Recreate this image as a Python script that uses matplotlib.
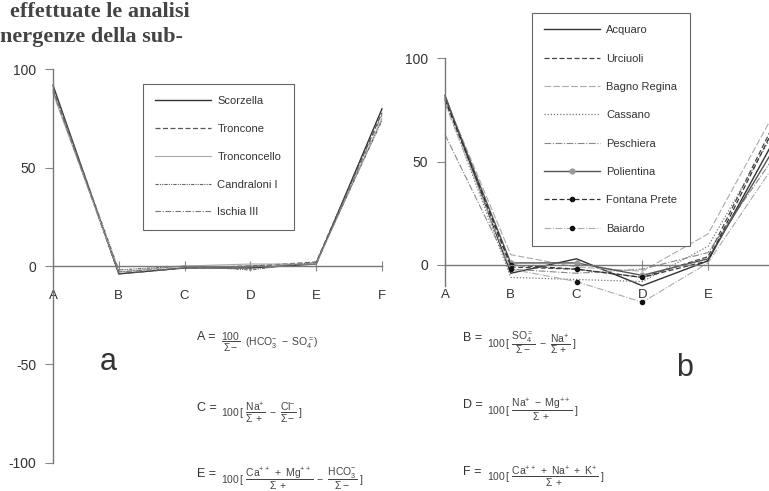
import numpy as np
import matplotlib
matplotlib.use('Agg')
import matplotlib.pyplot as plt

plt.rcParams['font.family'] = ['Liberation Sans', 'DejaVu Sans']
plt.rcParams['mathtext.fontset'] = 'custom'
plt.rcParams['mathtext.rm'] = 'Liberation Sans'
plt.rcParams['mathtext.it'] = 'Liberation Sans'
plt.rcParams['axes.unicode_minus'] = False

W, H = 769, 491

# --- data ---
categories = ['A', 'B', 'C', 'D', 'E', 'F']

names_a = ['Scorzella', 'Troncone', 'Tronconcello', 'Candraloni I', 'Ischia III']
vals_a = [
    [92, -4, -1, -1, 1, 80],
    [90, -4, -1, 0, 2, 78],
    [88, -3, 0, 1, 1, 75],
    [91, -2, 0, -2, 2, 74],
    [89, -3, -1, 0, 1, 77],
]

names_b = ['Acquaro', 'Urciuoli', 'Bagno Regina', 'Cassano', 'Peschiera',
           'Polientina', 'Fontana Prete', 'Baiardo']
vals_b = [
    [82, -4, 3, -10, 2, 60],
    [80, -1, -2, -6, 4, 68],
    [81, 5, -1, -3, 15, 73],
    [79, -6, -7, -8, 9, 64],
    [63, -2, -4, -2, 6, 52],
    [81, 1, 1, -5, 3, 56],
    [80, 0, -2, -6, 2, 66],
    [78, -2, -8, -18, 1, 48],
]

yticks_a = [-100, -50, 0, 50, 100]
yticks_b = [0, 50, 100]

styles_a = [
    dict(color='#333333', ls='-', lw=1.0),
    dict(color='#555555', ls=(0, (4, 2)), lw=0.9),
    dict(color='#aaaaaa', ls='-', lw=0.8),
    dict(color='#666666', ls=(0, (3, 1, 1, 1, 1, 1)), lw=0.8),
    dict(color='#777777', ls=(0, (5, 1.5, 1, 1.5)), lw=0.8),
]
styles_b = [
    dict(color='#333333', ls='-', lw=1.0),
    dict(color='#444444', ls=(0, (4, 2)), lw=0.9),
    dict(color='#aaaaaa', ls=(0, (6, 2)), lw=0.8),
    dict(color='#777777', ls=(0, (1, 1.5)), lw=0.9),
    dict(color='#888888', ls=(0, (6, 1.5, 1, 1.5)), lw=0.8),
    dict(color='#555555', ls='-', lw=1.0, marker='o', ms=3.5, mfc='#999999', mec='#999999',
         markevery=[1, 2, 3]),
    dict(color='#333333', ls=(0, (4, 2)), lw=0.9, marker='o', ms=3, mfc='#111111', mec='#111111',
         markevery=[1, 2, 3]),
    dict(color='#aaaaaa', ls=(0, (6, 1.5, 1, 1.5)), lw=0.8, marker='o', ms=3, mfc='#111111',
         mec='#111111', markevery=[1, 2, 3]),
]

fig = plt.figure(figsize=(W / 100, H / 100), dpi=100)


def make_axes(x0, xunit, y0, yunit, xlim, ylim):
    l = x0 + xlim[0] * xunit
    r = x0 + xlim[1] * xunit
    t = y0 - ylim[1] * yunit
    b = y0 - ylim[0] * yunit
    ax = fig.add_axes([l / W, 1 - b / H, (r - l) / W, (b - t) / H])
    ax.set_xlim(*xlim)
    ax.set_ylim(*ylim)
    ax.patch.set_alpha(0)
    return ax


def style_axes(ax, yticks, ybounds, ncat):
    for s in ['top', 'right']:
        ax.spines[s].set_visible(False)
    ax.spines['left'].set_position(('data', 0))
    ax.spines['bottom'].set_position(('data', 0))
    ax.spines['left'].set_bounds(*ybounds)
    ax.spines['bottom'].set_bounds(0, 5)
    for s in ['left', 'bottom']:
        ax.spines[s].set_color('#777777')
        ax.spines[s].set_linewidth(1.0)
    ax.set_xticks(range(ncat))
    ax.set_xticklabels(categories[:ncat])
    ax.set_yticks(yticks)
    ax.tick_params(axis='x', direction='inout', length=7, width=0.8, color='#888888',
                   pad=14, labelsize=9.5, labelcolor='#333333')
    ax.tick_params(axis='y', direction='out', length=6, width=0.8, color='#888888',
                   pad=6, labelsize=10, labelcolor='#333333')


def add_legend(ax, handles, x, y, spacing):
    leg = ax.legend(handles=handles, loc='upper left', bbox_to_anchor=(x / W, 1 - y / H),
                    bbox_transform=fig.transFigure, fontsize=8, frameon=True, fancybox=False,
                    edgecolor='#666666', framealpha=1, borderpad=1.1, labelspacing=spacing,
                    handlelength=5.0, handletextpad=0.6, borderaxespad=0)
    leg.get_frame().set_linewidth(0.8)
    for t in leg.get_texts():
        t.set_color('#333333')


# --- panel a ---
ax1 = make_axes(53, 65.8, 266, 1.965, (-0.6, 5.3), (-112, 112))
style_axes(ax1, yticks_a, (-100, 100), 6)
h1 = []
for name, v, st in zip(names_a, vals_a, styles_a):
    ln, = ax1.plot(range(len(categories)), v, label=name, **st)
    h1.append(ln)
add_legend(ax1, h1, 143, 84, 1.6)

# --- panel b (cut at the right edge of the scan) ---
ax2 = make_axes(445, 65.75, 265, 2.07, (-0.6, (W - 445) / 65.75), (-20, 115))
style_axes(ax2, yticks_b, (-10, 100), 5)
h2 = []
for name, v, st in zip(names_b, vals_b, styles_b):
    ln, = ax2.plot(range(len(categories)), v, label=name, **st)
    h2.append(ln)
add_legend(ax2, h2, 532, 13, 1.65)


def px(x, y):
    return x / W, 1 - y / H


# page text from the scan
fig.text(*px(10, 12), 'effettuate le analisi', family='Liberation Serif', fontsize=16,
         weight='bold', color='#444444', va='center', ha='left')
fig.text(*px(0, 37), 'nergenze della sub-', family='Liberation Serif', fontsize=16,
         weight='bold', color='#444444', va='center', ha='left')

# panel letters
fig.text(*px(100, 362), 'a', fontsize=22, color='#333333', va='center', ha='left')
fig.text(*px(676, 368), 'b', fontsize=22, color='#333333', va='center', ha='left')

# formulas
formulas = [
    (197, 337, 'A', r'$\dfrac{100}{\Sigma\,\mathrm{-}}\ \ (\mathrm{HCO_3^{-}\ -\ SO_4^{=}})$'),
    (197, 408, 'C', r'$100\,[\ \dfrac{\mathrm{Na^{+}}}{\Sigma\,+}\ -\ \dfrac{\mathrm{Cl^{-}}}{\Sigma\,\mathrm{-}}\ ]$'),
    (197, 474, 'E', r'$100\,[\ \dfrac{\mathrm{Ca^{++}\ +\ Mg^{++}}}{\Sigma\,+}\ -\ \dfrac{\mathrm{HCO_3^{-}}}{\Sigma\,\mathrm{-}}\ ]$'),
    (463, 338, 'B', r'$100\,[\ \dfrac{\mathrm{SO_4^{=}}}{\Sigma\,\mathrm{-}}\ -\ \dfrac{\mathrm{Na^{+}}}{\Sigma\,+}\ ]$'),
    (463, 405, 'D', r'$100\,[\ \dfrac{\mathrm{Na^{+}\ -\ Mg^{++}}}{\Sigma\,+}\ ]$'),
    (463, 472, 'F', r'$100\,[\ \dfrac{\mathrm{Ca^{++}\ +\ Na^{+}\ +\ K^{+}}}{\Sigma\,+}\ ]$'),
]
for x, y, letter, expr in formulas:
    fig.text(*px(x, y), letter + ' =', fontsize=9, color='#333333', va='center', ha='left')
    fig.text(*px(x + 24, y + 5), expr, fontsize=7.5, color='#444444', va='center', ha='left')

fig.savefig('out.png', dpi=100)
